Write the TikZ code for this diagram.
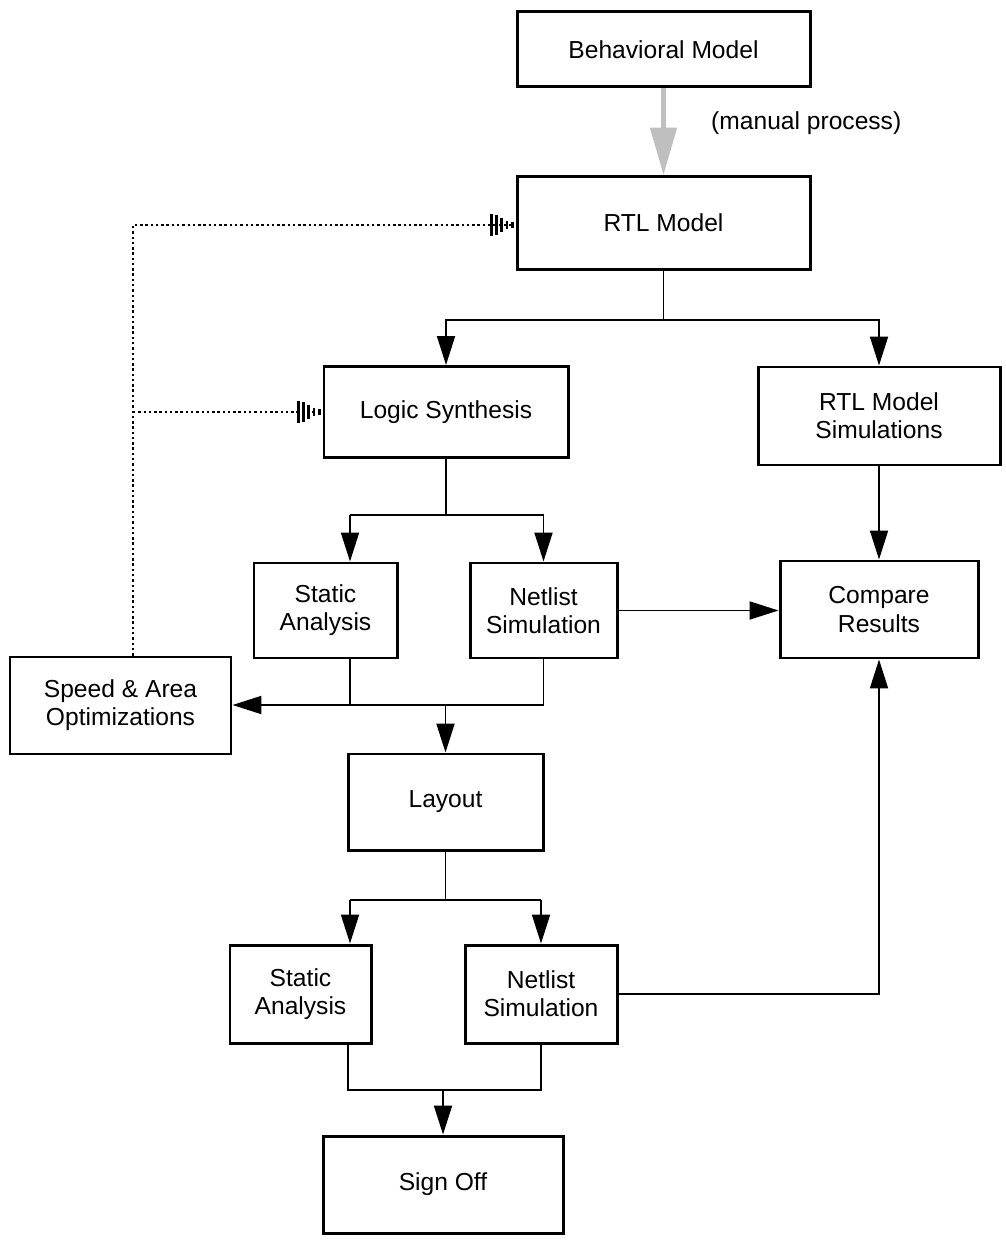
\documentclass[tikz,border=0pt]{standalone}
\usepackage{fontspec}
\setmainfont{Liberation Sans}
\usetikzlibrary{arrows.meta,calc}
\tikzstyle{box}=[rectangle,draw=black,line width=1.7pt,fill=white,align=center,inner sep=0pt,font=\fontsize{14}{16}\selectfont]
\tikzstyle{wire}=[line width=1.1pt]
\tikzstyle{arr}=[wire,-{Triangle[length=0.58cm,width=0.36cm]}]
\tikzstyle{fb}=[line width=1.6pt,dash pattern=on 1.4pt off 1.6pt,-{Bar[width=13pt,line width=1.6pt,sep=1.4pt]Bar[width=11pt,line width=1.6pt,sep=1.4pt]Bar[width=8pt,line width=1.6pt,sep=1.4pt]Bar[width=5pt,line width=1.6pt,sep=1.4pt]Bar[width=3pt,line width=1.6pt,sep=1pt]}]
\tikzstyle{annot}=[align=left,font=\fontsize{14}{16}\selectfont]

\begin{document}
\begin{tikzpicture}
	\useasboundingbox (0,0) rectangle (20.1,-25.04);

	\node[box, minimum width=5.86cm, minimum height=1.5cm](beh) at (13.27,-0.99){Behavioral Model};
	\node[box, minimum width=5.86cm, minimum height=1.86cm](rtl) at (13.27,-4.46){RTL Model};
	\node[box, minimum width=4.88cm, minimum height=1.82cm](logic) at (8.92,-8.24){Logic Synthesis};
	\node[box, minimum width=4.84cm, minimum height=1.96cm](rtlsim) at (17.58,-8.32){RTL Model\\Simulations};
	\node[box, minimum width=2.86cm, minimum height=1.9cm](static1) at (6.51,-12.21){Static\\Analysis};
	\node[box, minimum width=2.94cm, minimum height=1.9cm](netlist1) at (10.87,-12.21){Netlist\\Simulation};
	\node[box, minimum width=3.96cm, minimum height=1.94cm](compare) at (17.58,-12.19){Compare\\Results};
	\node[box, minimum width=4.42cm, minimum height=1.94cm](speed) at (2.41,-14.11){Speed \& Area\\Optimizations};
	\node[box, minimum width=3.9cm, minimum height=1.92cm](layout) at (8.91,-16.04){Layout};
	\node[box, minimum width=2.82cm, minimum height=1.96cm](static2) at (6.01,-19.88){Static\\Analysis};
	\node[box, minimum width=3.04cm, minimum height=1.96cm](netlist2) at (10.82,-19.88){Netlist\\Simulation};
	\node[box, minimum width=4.8cm, minimum height=1.94cm](signoff) at (8.86,-23.69){Sign Off};

	\node[annot, anchor=west](manual) at (14.1,-2.46){(manual process)};

	% junction points
	\coordinate (j1) at (13.27,-6.4);
	\coordinate (j2) at (8.92,-10.3);
	\coordinate (j2l) at (7.0,-10.3);
	\coordinate (j3) at (8.91,-14.1);
	\coordinate (j3l) at (7.0,-14.1);
	\coordinate (j4) at (8.91,-18.0);
	\coordinate (j4l) at (7.0,-18.0);
	\coordinate (j5) at (8.86,-21.8);
	\coordinate (j5l) at (6.96,-21.8);
	\coordinate (fbx) at (2.66,-4.5);

	\draw[line width=3pt, black!25, -{Triangle[length=0.95cm,width=0.52cm]}] (beh.south) -- (rtl.north);

	\draw[wire] (rtl.south) -- (j1);
	\draw[arr] (j1) -| (logic.north);
	\draw[arr] (j1) -| (rtlsim.north);

	\draw[wire] (logic.south) -- (j2);
	\draw[wire] (j2l) -- (j2 -| netlist1.north);
	\draw[arr] (j2l) -- (j2l |- static1.north);
	\draw[arr] (j2 -| netlist1.north) -- (netlist1.north);

	\draw[arr] (rtlsim.south) -- (compare.north);
	\draw[arr] (netlist1.east) -- (netlist1.east -| compare.west);

	\draw[wire] (j3l |- static1.south) -- (j3l);
	\draw[wire] (netlist1.south) -- (j3 -| netlist1.south) -- (j3l);
	\draw[arr] (j3l) -- (speed.east |- j3l);
	\draw[arr] (j3) -- (layout.north);

	\draw[wire] (layout.south) -- (j4);
	\draw[wire] (j4l) -- (j4 -| netlist2.north);
	\draw[arr] (j4l) -- (j4l |- static2.north);
	\draw[arr] (j4 -| netlist2.north) -- (netlist2.north);

	\draw[arr] (netlist2.east) -| (compare.south);

	\draw[wire] (j5l |- static2.south) -- (j5l) -- (j5 -| netlist2.south) -- (netlist2.south);
	\draw[arr] (j5) -- (signoff.north);

	% feedback from optimizations
	\draw[fb] (speed.north -| fbx) -- (fbx) -- (rtl.west |- fbx);
	\draw[fb] (fbx |- logic.west) -- (logic.west);

\end{tikzpicture}
\end{document}
